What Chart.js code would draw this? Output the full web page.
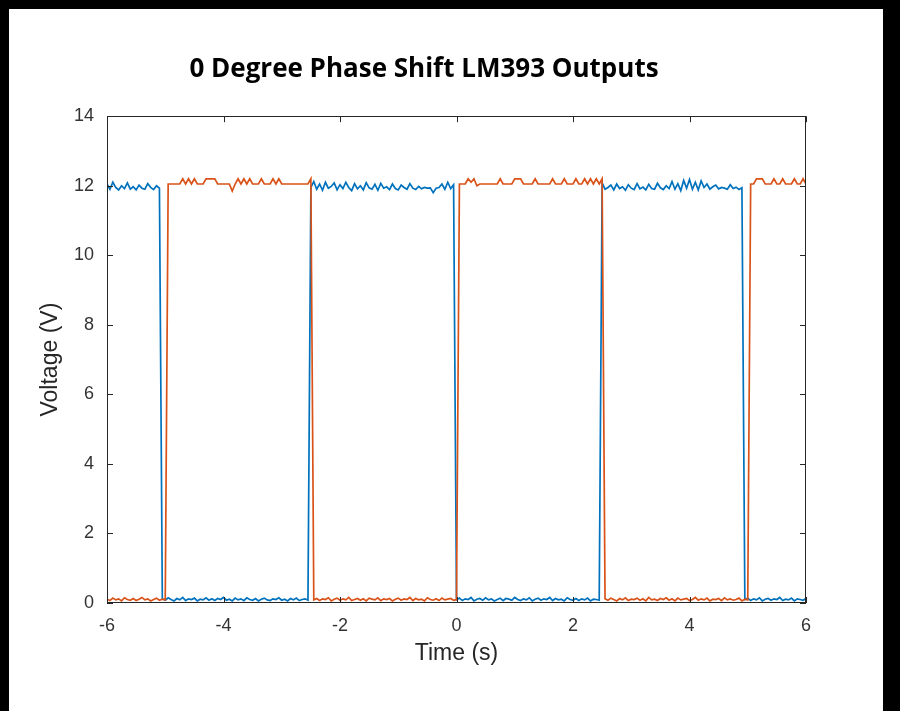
<!DOCTYPE html>
<html>
<head>
<meta charset="utf-8">
<title>0 Degree Phase Shift LM393 Outputs</title>
<script src="https://cdn.jsdelivr.net/npm/chart.js@4/dist/chart.umd.min.js"></script>
<style>
  html, body { margin: 0; padding: 0; background: #000; }
  #frame { position: absolute; left: 9px; top: 9px; width: 874px; height: 702px; background: #fff; }
</style>
</head>
<body>
<div id="frame"><canvas id="scope"></canvas></div>
<script>
// sample clock of the capture: -6 s .. 6 s every 50 ms (241 samples)
const timeStart = -6;
const timeStep = 0.05;

// comparator 1 output (V)
const blueVolts = [
  12.05, 11.9, 12.1, 11.95, 11.88, 12.0, 11.92, 12.08, 11.9, 11.97,
  11.88, 12.02, 11.93, 11.9, 12.06, 11.95, 11.89, 12.0, 11.93,
  0.12, 0.08, 0.15, 0.1, 0.06, 0.13, 0.09, 0.16, 0.07, 0.12,
  0.1, 0.14, 0.06, 0.11, 0.09, 0.15, 0.08, 0.12, 0.07, 0.13,
  0.1, 0.16, 0.08, 0.11, 0.06, 0.14, 0.09, 0.12, 0.07, 0.15,
  0.1, 0.08, 0.13, 0.06, 0.11, 0.14, 0.09, 0.07, 0.12, 0.1,
  0.15, 0.08, 0.11, 0.06, 0.13, 0.09, 0.14, 0.07, 0.1, 0.12,
  0.08,
  11.95, 12.12, 11.9, 12.05, 11.87, 12.1, 11.93, 11.98, 12.08, 11.88,
  12.03, 11.92, 12.1, 11.95, 11.86, 12.06, 11.91, 12.0, 11.88, 12.09,
  11.94, 11.9, 12.04, 11.87, 12.07, 11.93, 11.97, 11.89, 12.05, 11.92,
  11.88, 12.02, 11.95, 11.9, 12.06, 11.93, 11.89, 11.98, 11.91, 11.95,
  11.93, 11.94, 11.8, 11.93, 11.95, 12.05, 11.9, 12.1, 11.92, 12.03,
  0.09, 0.14, 0.07, 0.12, 0.1, 0.16, 0.06, 0.11, 0.13, 0.08,
  0.15, 0.09, 0.12, 0.06, 0.1, 0.14, 0.07, 0.13, 0.11, 0.08,
  0.16, 0.1, 0.07, 0.12, 0.09, 0.15, 0.06, 0.11, 0.14, 0.08,
  0.12, 0.1, 0.16, 0.07, 0.13, 0.09, 0.11, 0.06, 0.15, 0.1,
  0.08, 0.13, 0.07, 0.12, 0.09, 0.14, 0.06, 0.11, 0.1, 0.08,
  12.08, 11.9, 11.95, 12.02, 11.88, 12.05, 11.92, 11.97, 11.87, 12.03,
  11.93, 11.89, 12.06, 11.91, 11.96, 11.88, 12.04, 11.92, 11.9, 12.07,
  11.94, 11.89, 12.0, 11.92, 12.12, 11.9, 12.06, 11.86, 12.15, 11.93,
  12.18, 11.9, 12.1, 11.88, 12.14, 11.95, 12.05, 11.9, 11.97, 12.02,
  11.91, 11.95, 11.93, 11.9, 12.03, 11.92, 11.96, 11.89, 11.94,
  0.1, 0.14, 0.07, 0.12, 0.09, 0.15, 0.06, 0.11, 0.13, 0.08,
  0.12, 0.1, 0.16, 0.07, 0.11, 0.09, 0.14, 0.06, 0.12, 0.1,
  0.08, 0.13
];

// comparator 2 output (V)
const orangeVolts = [
  0.11, 0.07, 0.14, 0.09, 0.12, 0.06, 0.15, 0.1, 0.08, 0.13,
  0.07, 0.11, 0.16, 0.09, 0.12, 0.06, 0.1, 0.14, 0.08, 0.11,
  0.09,
  12.05, 12.05, 12.05, 12.05, 12.05, 12.2, 12.05, 12.2, 12.05, 12.2,
  12.05, 12.05, 12.05, 12.2, 12.2, 12.2, 12.2, 12.05, 12.05, 12.05,
  12.05, 12.05, 11.85, 12.05, 12.2, 12.05, 12.2, 12.05, 12.2, 12.05,
  12.05, 12.05, 12.2, 12.05, 12.05, 12.05, 12.2, 12.05, 12.2, 12.05,
  12.05, 12.05, 12.05, 12.05, 12.05, 12.05, 12.05, 12.05, 12.05, 12.2,
  0.09, 0.13, 0.07, 0.12, 0.1, 0.15, 0.06, 0.11, 0.14, 0.08,
  0.12, 0.09, 0.16, 0.07, 0.1, 0.13, 0.08, 0.12, 0.06, 0.14,
  0.11, 0.09, 0.15, 0.07, 0.12, 0.1, 0.13, 0.06, 0.11, 0.14,
  0.08, 0.12, 0.1, 0.16, 0.07, 0.13, 0.09, 0.11, 0.06, 0.15,
  0.1, 0.08, 0.12, 0.07, 0.14, 0.09, 0.11, 0.13, 0.08, 0.1,
  12.05, 12.05, 12.05, 12.2, 12.1, 12.2, 12.0, 12.05, 12.05, 12.05,
  12.05, 12.05, 12.05, 12.05, 12.2, 12.05, 12.05, 12.05, 12.05, 12.2,
  12.2, 12.2, 12.05, 12.05, 12.05, 12.05, 12.2, 12.05, 12.05, 12.05,
  12.05, 12.05, 12.2, 12.05, 12.05, 12.05, 12.2, 12.05, 12.05, 12.05,
  12.2, 12.05, 12.05, 12.2, 12.05, 12.2, 12.05, 12.2, 12.05, 12.2,
  0.12, 0.08, 0.14, 0.1, 0.06, 0.13, 0.09, 0.15, 0.07, 0.11,
  0.1, 0.14, 0.08, 0.12, 0.06, 0.16, 0.09, 0.11, 0.07, 0.13,
  0.1, 0.15, 0.08, 0.12, 0.06, 0.14, 0.09, 0.11, 0.13, 0.07,
  0.1, 0.16, 0.08, 0.12, 0.09, 0.14, 0.06, 0.11, 0.1, 0.13,
  0.07, 0.15, 0.09, 0.12, 0.08, 0.1, 0.14, 0.06, 0.11, 0.09,
  12.05, 12.05, 12.2, 12.2, 12.2, 12.05, 12.05, 12.05, 12.2, 12.05,
  12.05, 12.2, 12.05, 12.05, 12.05, 12.2, 12.05, 12.05, 12.2, 12.05
];

const xTicks = [-6, -4, -2, 0, 2, 4, 6];
const yTicks = [0, 2, 4, 6, 8, 10, 12, 14];

const toPoints = vals => vals.map((v, i) => ({ x: timeStart + i * timeStep, y: v }));

// matlab-ish box with inward tick marks on all four sides
const boxTicks = {
  id: 'boxTicks',
  afterDatasetsDraw(chart) {
    const { ctx, chartArea: a, scales: { x, y } } = chart;
    const len = 6;
    ctx.save();
    ctx.strokeStyle = '#262626';
    ctx.lineWidth = 1;
    ctx.strokeRect(Math.round(a.left) + 0.5, Math.round(a.top) + 0.5,
      Math.round(a.width) - 1, Math.round(a.height) - 1);
    ctx.beginPath();
    x.ticks.forEach((t, i) => {
      const px = Math.round(x.getPixelForTick(i)) + 0.5;
      ctx.moveTo(px, a.bottom); ctx.lineTo(px, a.bottom - len);
      ctx.moveTo(px, a.top); ctx.lineTo(px, a.top + len);
    });
    y.ticks.forEach((t, i) => {
      const py = Math.round(y.getPixelForTick(i)) + 0.5;
      ctx.moveTo(a.left, py); ctx.lineTo(a.left + len, py);
      ctx.moveTo(a.right, py); ctx.lineTo(a.right - len, py);
    });
    ctx.stroke();
    ctx.restore();
  }
};

const tickFont = { family: '"Liberation Sans", Arial, sans-serif', size: 18 };
const labelFont = { family: '"Liberation Sans", Arial, sans-serif', size: 23 };

new Chart(document.getElementById('scope'), {
  type: 'line',
  data: {
    datasets: [
      {
        label: 'Output 1',
        data: toPoints(blueVolts),
        borderColor: '#0072BD',
        borderWidth: 1.7,
        pointRadius: 0,
        tension: 0,
        order: 2
      },
      {
        label: 'Output 2',
        data: toPoints(orangeVolts),
        borderColor: '#D95319',
        borderWidth: 1.7,
        pointRadius: 0,
        tension: 0,
        order: 1
      }
    ]
  },
  options: {
    responsive: true,
    maintainAspectRatio: false,
    animation: false,
    layout: { padding: { left: 33, right: 77, top: 0, bottom: 0 } },
    plugins: {
      legend: { display: false },
      tooltip: { enabled: false },
      title: {
        display: true,
        text: '0 Degree Phase Shift LM393 Outputs',
        color: '#000',
        font: { family: '"Open Sans", Lato, sans-serif', size: 26, weight: 'bold' },
        padding: { top: 45, bottom: 31 }
      }
    },
    scales: {
      x: {
        type: 'linear',
        min: -6,
        max: 6,
        afterBuildTicks: s => { s.ticks = xTicks.map(v => ({ value: v })); },
        afterFit: s => { s.height = 108; },
        grid: { display: false, drawTicks: false },
        border: { display: false },
        ticks: { color: '#333', font: tickFont, padding: 12, maxRotation: 0 },
        title: { display: true, text: 'Time (s)', color: '#262626', font: labelFont, padding: { top: 0, bottom: 44 } }
      },
      y: {
        min: 0,
        max: 14,
        afterBuildTicks: s => { s.ticks = yTicks.map(v => ({ value: v })); },
        afterFit: s => { s.width = 65; },
        grid: { display: false, drawTicks: false },
        border: { display: false },
        ticks: { color: '#333', font: tickFont, padding: 13 },
        title: { display: true, text: 'Voltage (V)', color: '#262626', font: labelFont, padding: { top: -5, bottom: 0 } }
      }
    }
  },
  plugins: [boxTicks]
});
</script>
</body>
</html>
